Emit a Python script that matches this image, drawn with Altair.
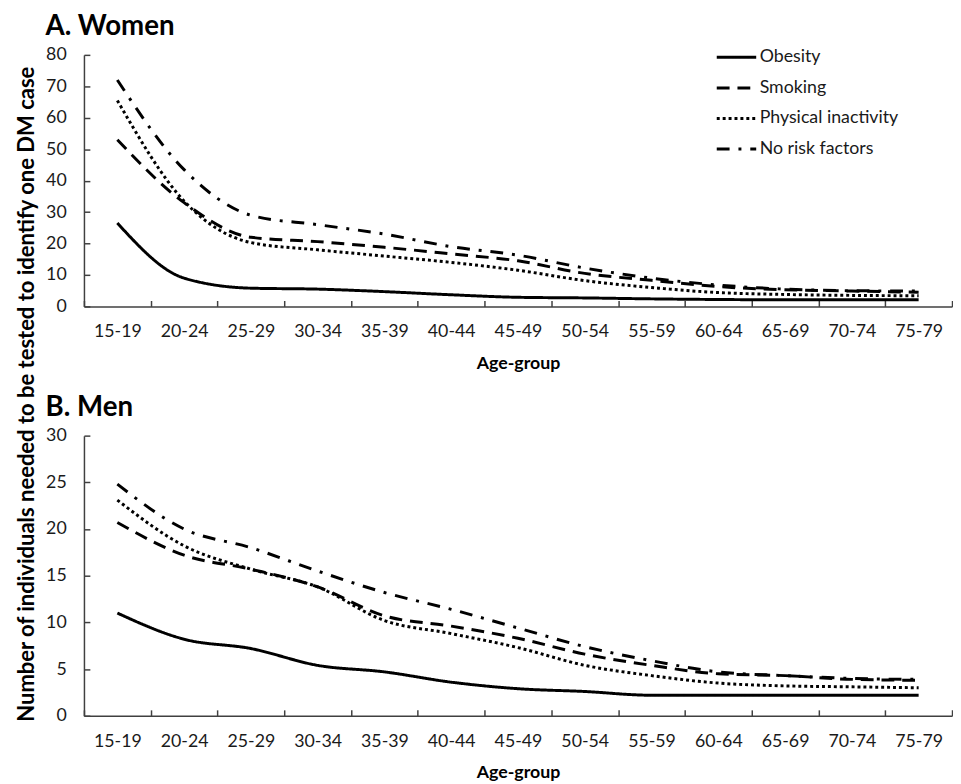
import altair as alt
import pandas as pd

ages = ["15-19", "20-24", "25-29", "30-34", "35-39", "40-44", "45-49",
        "50-54", "55-59", "60-64", "65-69", "70-74", "75-79"]
series = ["Obesity", "Smoking", "Physical inactivity", "No risk factors"]

# A. Women
women_obesity = [26.5, 9.0, 5.8, 5.5, 4.7, 3.7, 2.9, 2.7, 2.4, 2.2, 2.1, 2.1, 2.1]
women_smoking = [53.0, 33.0, 22.0, 20.6, 18.8, 16.7, 14.5, 10.5, 8.3, 6.3, 5.3, 4.9, 4.5]
women_inactivity = [65.5, 33.5, 20.3, 18.0, 16.0, 14.0, 11.5, 8.2, 6.0, 4.4, 3.8, 3.5, 3.4]
women_norisk = [72.0, 43.5, 29.0, 26.0, 23.0, 19.0, 16.3, 12.2, 9.0, 6.8, 5.5, 5.0, 4.9]

# B. Men
men_obesity = [11.0, 8.2, 7.2, 5.4, 4.7, 3.6, 2.9, 2.6, 2.2, 2.2, 2.2, 2.2, 2.2]
men_smoking = [20.7, 17.2, 15.7, 13.8, 10.7, 9.6, 8.3, 6.6, 5.4, 4.5, 4.3, 3.9, 3.8]
men_inactivity = [23.1, 18.2, 15.7, 13.8, 10.2, 8.8, 7.3, 5.4, 4.3, 3.5, 3.2, 3.1, 3.0]
men_norisk = [24.8, 20.0, 18.0, 15.5, 13.2, 11.4, 9.4, 7.4, 5.9, 4.7, 4.3, 4.0, 3.9]

y_title = "Number of individuals needed to be tested to identify one DM case"

FONT = "Lato"


def make_df(cols):
    rows = []
    for s, vals in zip(series, cols):
        for a, v in zip(ages, vals):
            rows.append({"age": a, "series": s, "value": v})
    return pd.DataFrame(rows)


df_w = make_df([women_obesity, women_smoking, women_inactivity, women_norisk])
df_m = make_df([men_obesity, men_smoking, men_inactivity, men_norisk])

dash_scale = alt.Scale(domain=series, range=[[1, 0], [13, 8], [3, 3], [13, 9, 3, 9]])

axis_common = dict(
    grid=False,
    domainColor="#404040",
    domainWidth=1.5,
    tickColor="#404040",
    tickWidth=1.5,
    tickSize=alt.ExprRef(expr="-6"),
    labelFont=FONT,
    labelFontSize=18,
    labelColor="#1a1a1a",
    titleFont=FONT,
    titleFontSize=18,
    titleFontWeight="bold",
    titleColor="black",
)


def panel(df, ymax, step, title, height, legend, title_offset):
    return alt.Chart(df).mark_line(
        color="black", strokeWidth=3, interpolate="monotone"
    ).encode(
        x=alt.X(
            "age:N", sort=ages, bandPosition=0.5,
            scale=alt.Scale(type="band", paddingInner=0, paddingOuter=0),
            axis=alt.Axis(title="Age-group", labelAngle=0, tickBand="extent",
                          labelPadding=23, titlePadding=14, **axis_common),
        ),
        y=alt.Y(
            "value:Q",
            scale=alt.Scale(domain=[0, ymax], nice=False),
            axis=alt.Axis(title=None, values=list(range(0, ymax + 1, step)),
                          labelPadding=24, **axis_common),
        ),
        strokeDash=alt.StrokeDash("series:N", scale=dash_scale, sort=series, legend=legend),
        detail="series:N",
    ).properties(
        width=880,
        height=height,
        title=alt.TitleParams(title, anchor="start", frame="bounds", font=FONT,
                              fontSize=28, fontWeight="bold", color="black",
                              offset=title_offset),
    )


legend = alt.Legend(
    title=None, orient="none", legendX=640, legendY=-19,
    symbolType="stroke", symbolSize=1600, symbolStrokeWidth=3,
    symbolStrokeColor="black", labelFont=FONT, labelFontSize=18,
    labelColor="#1a1a1a", labelOffset=2, rowPadding=-9,
)

top = panel(df_w, 80, 10, "A. Women", 255, legend, -5)
bottom = panel(df_m, 30, 5, "B. Men", 284, None, 5)

charts = alt.vconcat(top, bottom, spacing=22).resolve_legend(strokeDash="independent")

ytitle_chart = alt.Chart(pd.DataFrame({"t": [y_title]})).mark_text(
    angle=270, font=FONT, fontSize=22.3, fontWeight="bold", color="black",
    align="center", baseline="middle",
).encode(
    text="t:N", x=alt.value(19), y=alt.value(344)
).properties(width=30, height=760)

chart = alt.hconcat(ytitle_chart, charts, spacing=7).properties(
    padding={"left": 0, "top": 0, "right": 0, "bottom": 0}
).configure_view(stroke=None)

chart.save("out.html", embed_options={"renderer": "svg", "actions": False})
